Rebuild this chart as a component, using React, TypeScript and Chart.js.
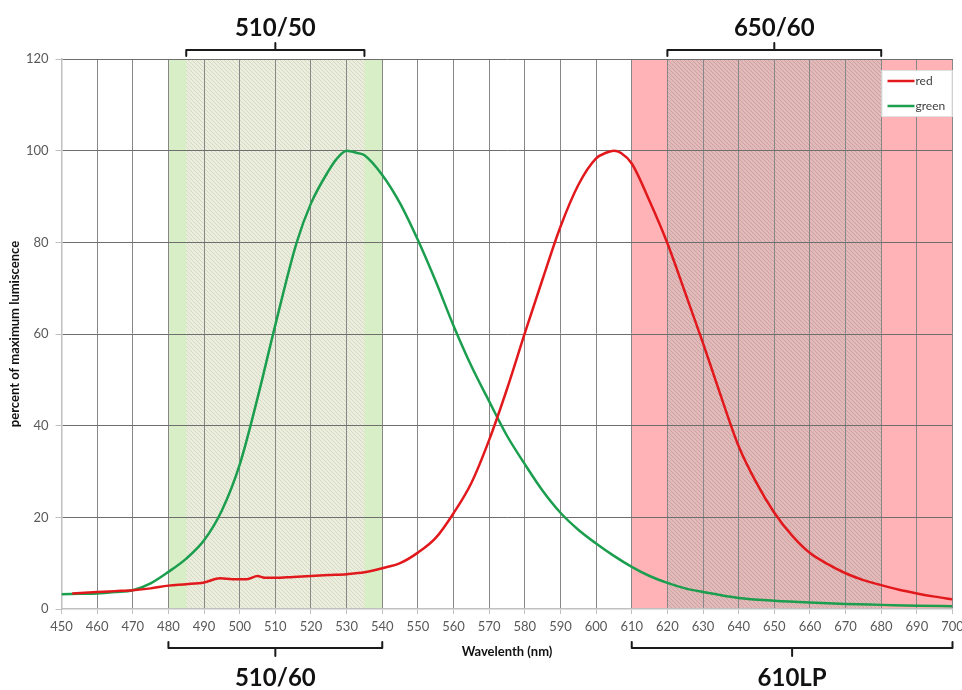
import React, { useEffect, useRef } from "react";
import { Chart, registerables } from "chart.js";

Chart.register(...registerables);

// ---------- data ----------
const greenWavelengths = [450, 455, 460, 465, 470, 475, 480, 485, 490, 495, 500, 505, 510, 516, 520, 525, 527, 530, 533, 535, 540, 545, 550, 555, 560, 565, 570, 575, 580, 585, 590, 595, 600, 605, 610, 615, 620, 625, 630, 640, 650, 660, 670, 680, 690, 700];
const greenValues = [3.2, 3.3, 3.4, 3.7, 4.1, 5.6, 8.1, 11, 15, 21.5, 31.5, 46, 62, 80, 88.5, 95.7, 98, 100, 99.5, 99, 94.7, 88.5, 80.5, 71.5, 61.8, 53, 45.3, 37.8, 31.6, 25.8, 21, 17.3, 14.3, 11.6, 9.2, 7.2, 5.7, 4.5, 3.7, 2.4, 1.8, 1.4, 1.1, 0.9, 0.7, 0.6];

const redWavelengths = [453, 460, 465, 470, 475, 480, 485, 490, 494.5, 498, 502, 505, 507, 510, 515, 520, 525, 530, 535, 540, 545, 550, 555, 560, 565, 570, 575, 580, 585, 590, 595, 600, 603, 605, 607, 610, 615, 620, 625, 630, 635, 640, 645, 650, 655, 660, 665, 670, 675, 680, 685, 690, 695, 700];
const redValues = [3.4, 3.7, 3.9, 4.1, 4.5, 5.1, 5.4, 5.8, 6.7, 6.5, 6.5, 7.2, 6.8, 6.8, 7.0, 7.2, 7.4, 7.6, 8.0, 8.9, 10, 12.3, 15.5, 20.9, 27.5, 36.9, 48, 60.2, 72, 83.4, 92.5, 98.3, 99.6, 100, 99.5, 97.2, 89, 79.8, 69, 58, 46.5, 35.5, 27.5, 21, 16, 12.2, 9.8, 7.8, 6.3, 5.2, 4.2, 3.4, 2.7, 2.1];

const seriesLabels = ["red", "green"];

// filter bands (nm)
const filterLabels = ["510/60", "610LP", "510/50", "650/60"];
const filterStart = [480, 610, 485, 620];
const filterEnd = [540, 700, 535, 680];
const filterSide = ["bottom", "bottom", "top", "top"];

const xMin = 450;
const xMax = 700;
const xStep = 10;
const yMin = 0;
const yMax = 120;
const yStep = 20;

const xTitle = "Wavelenth (nm)";
const yTitle = "percent of maximum lumiscence";

// ---------- styles ----------
const FONT = "Lato, 'Open Sans', sans-serif";
const RED = "#e2191c";
const GREEN = "#1c9e4f";

function makeHatch(base: string, line: string) {
  const c = document.createElement("canvas");
  c.width = 4;
  c.height = 4;
  const g = c.getContext("2d")!;
  g.fillStyle = base;
  g.fillRect(0, 0, 4, 4);
  g.strokeStyle = line;
  g.lineWidth = 1;
  g.beginPath();
  g.moveTo(-1, -1);
  g.lineTo(5, 5);
  g.moveTo(3, -1);
  g.lineTo(5, 1);
  g.moveTo(-1, 3);
  g.lineTo(1, 5);
  g.stroke();
  return g.createPattern(c, "repeat");
}

const bandFills = ["#d8eec6", "#ffb3b6", null, null];

const filtersPlugin = {
  id: "filters",
  beforeDraw(chart: any) {
    const { ctx, chartArea: a, scales } = chart;
    const x = scales.x;
    const hatches = [
      null,
      null,
      makeHatch("#eceedd", "#d5d9c6"),
      makeHatch("#e2baba", "#cca2a3"),
    ];
    ctx.save();
    for (let i = 0; i < filterLabels.length; i++) {
      const x1 = x.getPixelForValue(filterStart[i]);
      const x2 = x.getPixelForValue(filterEnd[i]);
      ctx.fillStyle = (bandFills[i] || hatches[i]) as any;
      ctx.fillRect(x1, a.top, x2 - x1, a.bottom - a.top);
    }
    ctx.restore();
  },
  afterDraw(chart: any) {
    const { ctx, chartArea: a, scales } = chart;
    const x = scales.x;
    ctx.save();
    ctx.strokeStyle = "#1a1a1a";
    ctx.lineWidth = 2;
    ctx.lineJoin = "round";
    ctx.lineCap = "round";
    ctx.fillStyle = "#111";
    ctx.font = `bold 24px ${FONT}`;
    ctx.textAlign = "center";
    ctx.textBaseline = "middle";
    for (let i = 0; i < filterLabels.length; i++) {
      const x1 = x.getPixelForValue(filterStart[i]);
      const x2 = x.getPixelForValue(filterEnd[i]);
      const cx = (x1 + x2) / 2;
      const top = filterSide[i] === "top";
      const yl = top ? a.top - 9 : a.bottom + 39;
      const yh = top ? yl + 6 : yl - 6;
      const yn = top ? yl - 7 : yl + 8;
      ctx.beginPath();
      ctx.moveTo(x1, yh);
      ctx.lineTo(x1, yl);
      ctx.lineTo(x2, yl);
      ctx.lineTo(x2, yh);
      ctx.moveTo(cx, yl);
      ctx.lineTo(cx, yn);
      ctx.stroke();
      const ty = top ? a.top - 31 : a.bottom + 69;
      ctx.fillText(filterLabels[i], cx, ty);
    }
    ctx.restore();

    // legend box
    ctx.save();
    const lw = 71;
    const lh = 47;
    const lx = a.right - lw;
    const ly = a.top + 11;
    ctx.fillStyle = "#ffffff";
    ctx.fillRect(lx, ly, lw, lh);
    ctx.strokeStyle = "#e0e0e0";
    ctx.lineWidth = 1;
    ctx.strokeRect(lx + 0.5, ly + 0.5, lw - 1, lh - 1);
    ctx.font = `12px ${FONT}`;
    ctx.textAlign = "left";
    ctx.textBaseline = "middle";
    chart.data.datasets.forEach((ds: any, i: number) => {
      const yy = ly + 11 + i * 25;
      ctx.strokeStyle = ds.borderColor;
      ctx.lineWidth = 2.5;
      ctx.beginPath();
      ctx.moveTo(lx + 6, yy);
      ctx.lineTo(lx + 33, yy);
      ctx.stroke();
      ctx.fillStyle = "#404040";
      ctx.fillText(ds.label, lx + 34, yy);
    });
    ctx.restore();
  },
};

export default function App() {
  const ref = useRef<HTMLCanvasElement | null>(null);

  useEffect(() => {
    document.body.style.margin = "0";
    const canvas = ref.current!;
    const toPts = (xs: number[], ys: number[]) => xs.map((v, i) => ({ x: v, y: ys[i] }));
    const chart = new Chart(canvas, {
      type: "line",
      data: {
        datasets: [
          {
            label: seriesLabels[0],
            data: toPts(redWavelengths, redValues),
            borderColor: RED,
            borderWidth: 2.5,
            pointRadius: 0,
            cubicInterpolationMode: "monotone",
            fill: false,
          },
          {
            label: seriesLabels[1],
            data: toPts(greenWavelengths, greenValues),
            borderColor: GREEN,
            borderWidth: 2.5,
            pointRadius: 0,
            cubicInterpolationMode: "monotone",
            fill: false,
          },
        ],
      },
      options: {
        animation: false,
        responsive: false,
        devicePixelRatio: 1,
        layout: { padding: { top: 59, right: 9.5, left: 0, bottom: 0 }, autoPadding: false },
        plugins: { legend: { display: false }, tooltip: { enabled: false } },
        scales: {
          x: {
            type: "linear",
            min: xMin,
            max: xMax,
            afterFit: (s: any) => {
              s.height = 81;
              s.paddingLeft = 0;
              s.paddingRight = 0;
            },
            ticks: {
              stepSize: xStep,
              color: "#595959",
              font: { family: FONT, size: 13 },
              padding: 5,
              maxRotation: 0,
              autoSkip: false,
            },
            grid: {
              color: (c: any) => (c.tick && c.tick.value === xMin ? "rgba(0,0,0,0)" : "#878787"),
              tickColor: "#c0c0c0",
              tickLength: 5,
              lineWidth: 1,
            },
            border: { color: "#c0c0c0", width: 1.5 },
            title: {
              display: true,
              text: xTitle,
              color: "#111",
              font: { family: FONT, size: 13, weight: "bold" },
              padding: { top: 0, bottom: 30 },
            },
          },
          y: {
            type: "linear",
            min: yMin,
            max: yMax,
            afterFit: (s: any) => {
              s.width = 61.5;
              s.paddingTop = 0;
              s.paddingBottom = 0;
            },
            ticks: {
              stepSize: yStep,
              color: "#595959",
              font: { family: FONT, size: 13 },
              padding: 7,
            },
            grid: {
              color: (c: any) => (c.tick && c.tick.value === yMin ? "rgba(0,0,0,0)" : "#6e6e6e"),
              tickColor: "#c0c0c0",
              tickLength: 6,
              lineWidth: 1,
            },
            border: { color: "#c0c0c0", width: 1.5 },
            title: {
              display: true,
              text: yTitle,
              color: "#111",
              font: { family: FONT, size: 13, weight: "bold" },
              padding: { top: 7, bottom: 0 },
            },
          },
        },
      },
      plugins: [filtersPlugin],
    } as any);
    return () => chart.destroy();
  }, []);

  return (
    <div style={{ position: "absolute", left: 0, top: 0, width: 962, height: 690 }}>
      <canvas ref={ref} width={962} height={690} />
    </div>
  );
}
